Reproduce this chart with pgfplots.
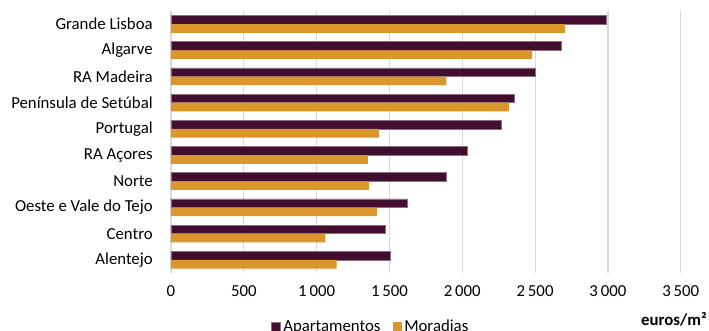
\documentclass[border=0pt]{standalone}
\usepackage{pgfplots}
\pgfplotsset{compat=1.18}
\usepackage{fontspec}
\setmainfont{Carlito}
\definecolor{apt}{HTML}{410E30}
\definecolor{mor}{HTML}{DB972B}
\definecolor{gridc}{HTML}{D9D9D9}
\begin{document}
\fontsize{12.6}{15}\selectfont
\begin{tikzpicture}
\path[use as bounding box] (-128.25pt,-42.75pt) rectangle (403.5pt,204.75pt);
\begin{axis}[
  at={(0,0)}, anchor=south west,
  scale only axis, clip=false,
  width=382.3pt, height=196.5pt,
  xbar, bar width=6.5pt,
  xmin=0, xmax=3500,
  ymin=-0.5, ymax=9.5,
  y dir=reverse,
  xtick={0,500,...,3500},
  ytick={0,...,9},
  yticklabels={Grande Lisboa,Algarve,RA Madeira,Península de Setúbal,Portugal,RA Açores,Norte,Oeste e Vale do Tejo,Centro,Alentejo},
  xmajorgrids, grid style={gridc, line width=0.9pt},
  axis line style={draw=none},
  major tick length=0pt,
  tick label style={font=\fontsize{12.6}{15}\selectfont},
  /pgf/number format/assume math mode=true,
  /pgf/number format/1000 sep={\,},
  xticklabel style={yshift=-5pt},
  yticklabel style={inner sep=0pt, xshift=-13.5pt},
  legend style={at={(0.3924,-0.206)}, anchor=center, draw=none, legend columns=2, font=\fontsize{12.6}{15}\selectfont, /tikz/every even column/.append style={column sep=7pt}, inner sep=0pt},
  legend image code/.code={\fill[#1] (0pt,-3.4pt) rectangle (6.8pt,3.4pt);},
]
\addplot[fill=apt, draw=apt!60!white, line width=0.4pt, bar shift=3.25pt] coordinates {
(2992,0) (2681,1) (2500,2) (2360,3) (2269,4) (2035,5) (1891,6) (1621,7) (1470,8) (1506,9)};
\addplot[fill=mor, draw=none, bar shift=-3.25pt] coordinates {
(2706,0) (2479,1) (1891,2) (2321,3) (1429,4) (1351,5) (1360,6) (1413,7) (1060,8) (1138,9)};
\legend{Apartamentos, Moradias}
\node[anchor=base east, inner sep=0pt, font=\fontsize{12.6}{15}\selectfont\bfseries] at (axis description cs:1.0515,-0.1985) {euros/m²};
\end{axis}
\end{tikzpicture}
\end{document}
